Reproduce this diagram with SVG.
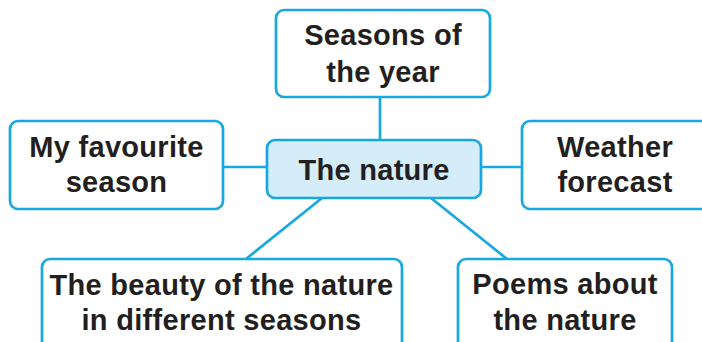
<svg xmlns="http://www.w3.org/2000/svg" width="702" height="342" viewBox="0 0 702 342">
<style>
.box{fill:#fff;stroke:#17a8e3;stroke-width:2.7}
.center{fill:#d5ecf9;stroke:#17a8e3;stroke-width:2.7}
.line{stroke:#17a8e3;stroke-width:2.7;fill:none}
text{font-family:"Liberation Sans",Arial,sans-serif;font-weight:bold;font-size:29px;letter-spacing:0.3px;fill:#231f20;text-anchor:middle}
</style>
<rect width="702" height="342" fill="#fff"/>
<g id="connectors">
<line class="line" x1="380" y1="97" x2="380" y2="140"/>
<line class="line" x1="223" y1="167" x2="267" y2="167"/>
<line class="line" x1="481" y1="167" x2="522" y2="167"/>
<line class="line" x1="322" y1="198" x2="246" y2="259"/>
<line class="line" x1="431" y1="198" x2="507" y2="259"/>
</g>
<g id="top">
<rect class="box" x="276" y="10" width="214" height="87" rx="8"/>
<text x="383" y="45">Seasons of</text>
<text x="383" y="82">the year</text>
</g>
<g id="center">
<rect class="center" x="267" y="140" width="214" height="58" rx="8"/>
<text x="374" y="180">The nature</text>
</g>
<g id="left">
<rect class="box" x="10" y="121" width="213" height="88" rx="8"/>
<text x="116.5" y="157">My favourite</text>
<text x="116.5" y="192">season</text>
</g>
<g id="right">
<rect class="box" x="522" y="121" width="190" height="88" rx="8"/>
<text x="615" y="157">Weather</text>
<text x="615" y="192">forecast</text>
</g>
<g id="bottomleft">
<rect class="box" x="42" y="259" width="360" height="95" rx="8"/>
<text x="221.5" y="295">The beauty of the nature</text>
<text x="221.5" y="330">in different seasons</text>
</g>
<g id="bottomright">
<rect class="box" x="458" y="259" width="214" height="95" rx="8"/>
<text x="565" y="294">Poems about</text>
<text x="565" y="330">the nature</text>
</g>
</svg>
